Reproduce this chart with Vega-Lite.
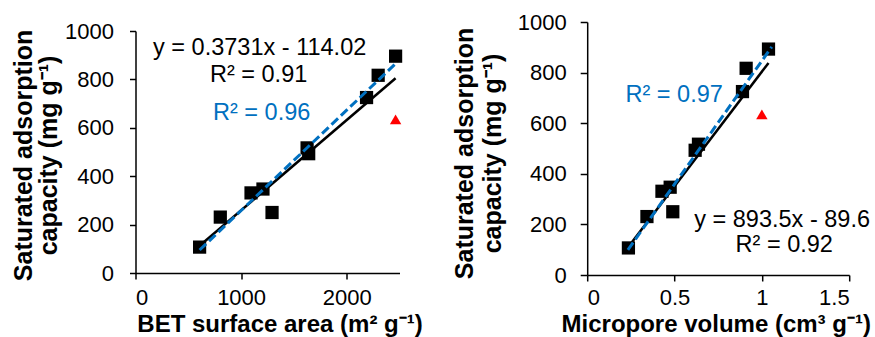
{
  "$schema": "https://vega.github.io/schema/vega-lite/v6.json",
  "padding": {"left": 11.5, "top": 11, "right": 0, "bottom": 0},
  "background": "white",
  "spacing": 28.7,
  "config": {
    "view": {"stroke": null},
    "font": "Liberation Sans",
    "axis": {
      "grid": false,
      "domainColor": "black",
      "domainWidth": 1.5,
      "tickColor": "black",
      "tickWidth": 1.5,
      "tickSize": 6,
      "labelFont": "Liberation Sans",
      "labelFontSize": 22,
      "labelColor": "black",
      "titleFont": "Liberation Sans",
      "titleFontWeight": "bold",
      "titleColor": "black"
    }
  },
  "datasets": {
    "spacer": [],
    "bet_points": [
      {"x": 607, "y": 107, "kind": "square"},
      {"x": 803, "y": 231, "kind": "square"},
      {"x": 1094, "y": 331, "kind": "square"},
      {"x": 1207, "y": 347, "kind": "square"},
      {"x": 1293, "y": 250, "kind": "square"},
      {"x": 1625, "y": 517, "kind": "square"},
      {"x": 1640, "y": 493, "kind": "square"},
      {"x": 2188, "y": 725, "kind": "square"},
      {"x": 2298, "y": 817, "kind": "square"},
      {"x": 2463, "y": 896, "kind": "square"},
      {"x": 2463, "y": 635, "kind": "triangle"}
    ],
    "bet_lines": [
      {"series": "all", "x": 607, "y": 112.5},
      {"series": "all", "x": 2463, "y": 805},
      {"series": "sub", "x": 607, "y": 95},
      {"series": "sub", "x": 2475, "y": 870}
    ],
    "bet_labels": [
      {"group": "all", "x": 1176, "y": 929, "label": "y = 0.3731x - 114.02"},
      {"group": "all", "x": 1166, "y": 818, "label": "R² = 0.91"},
      {"group": "sub", "x": 1195, "y": 660, "label": "R² = 0.96"}
    ],
    "mp_points": [
      {"x": 0.236, "y": 107, "kind": "square"},
      {"x": 0.342, "y": 231, "kind": "square"},
      {"x": 0.428, "y": 331, "kind": "square"},
      {"x": 0.475, "y": 347, "kind": "square"},
      {"x": 0.49, "y": 250, "kind": "square"},
      {"x": 0.637, "y": 517, "kind": "square"},
      {"x": 0.618, "y": 493, "kind": "square"},
      {"x": 0.889, "y": 725, "kind": "square"},
      {"x": 0.91, "y": 817, "kind": "square"},
      {"x": 1.038, "y": 893, "kind": "square"},
      {"x": 1.0, "y": 635, "kind": "triangle"}
    ],
    "mp_lines": [
      {"series": "all", "x": 0.236, "y": 112},
      {"series": "all", "x": 1.038, "y": 838},
      {"series": "sub", "x": 0.233, "y": 99},
      {"series": "sub", "x": 1.057, "y": 902}
    ],
    "mp_labels": [
      {"group": "sub", "x": 0.498, "y": 711, "label": "R² = 0.97"},
      {"group": "all", "x": 1.116, "y": 219, "label": "y = 893.5x - 89.6"},
      {"group": "all", "x": 1.128, "y": 119, "label": "R² = 0.92"}
    ]
  },
  "hconcat": [
    {
      "spacing": 0,
      "bounds": "flush",
      "vconcat": [
        {
          "width": 264,
          "height": 9,
          "data": {"name": "spacer"},
          "mark": {"type": "point", "opacity": 0},
          "encoding": {}
        },
        {
          "width": 264,
          "height": 242,
          "encoding": {
            "x": {
              "field": "x", "type": "quantitative",
              "scale": {"domain": [0, 2500], "nice": false},
              "axis": {
                "title": "BET surface area (m² g⁻¹)",
                "titleFontSize": 24,
                "values": [0, 1000, 2000],
                "format": "d",
                "labelPadding": 8.5,
                "titleX": 144, "titleY": 58.5, "titleBaseline": "alphabetic"
              }
            },
            "y": {
              "field": "y", "type": "quantitative",
              "scale": {"domain": [0, 1000], "nice": false},
              "axis": {
                "title": ["Saturated adsorption", "capacity (mg g⁻¹)"],
                "titleFontSize": 25,
                "titleLineHeight": 25,
                "values": [0, 200, 400, 600, 800, 1000],
                "format": "d",
                "labelPadding": 16,
                "titleX": -112, "titleY": 124, "titleBaseline": "middle", "titleAlign": "center", "titleAngle": 270
              }
            }
          },
          "layer": [
            {
              "data": {"name": "bet_lines"},
              "transform": [{"filter": "datum.series === 'all'"}],
              "mark": {"type": "line", "color": "black", "strokeWidth": 2.5}
            },
            {
              "data": {"name": "bet_points"},
              "transform": [{"filter": "datum.kind === 'square'"}],
              "mark": {"type": "point", "shape": "square", "filled": true, "color": "black", "size": 175, "opacity": 1}
            },
            {
              "data": {"name": "bet_points"},
              "transform": [{"filter": "datum.kind === 'triangle'"}],
              "mark": {"type": "point", "shape": "triangle-up", "filled": true, "color": "#FF0000", "size": 130, "opacity": 1}
            },
            {
              "data": {"name": "bet_lines"},
              "transform": [{"filter": "datum.series === 'sub'"}],
              "mark": {"type": "line", "color": "#0070C0", "strokeWidth": 3, "strokeDash": [9, 4]}
            },
            {
              "data": {"name": "bet_labels"},
              "mark": {"type": "text", "fontSize": 23.5, "font": "Liberation Sans", "align": "center", "baseline": "middle"},
              "encoding": {
                "text": {"field": "label"},
                "color": {"field": "group", "type": "nominal", "scale": {"domain": ["all", "sub"], "range": ["black", "#0070C0"]}, "legend": null}
              }
            }
          ]
        }
      ]
    },
    {
      "width": 262,
      "height": 253,
      "encoding": {
        "x": {
          "field": "x", "type": "quantitative",
          "scale": {"domain": [0, 1.5], "nice": false},
          "axis": {
            "title": "Micropore volume (cm³ g⁻¹)",
            "titleFontSize": 24,
            "values": [0, 0.5, 1, 1.5],
            "format": "~g",
            "labelPadding": 6.5,
            "titleX": 128.5, "titleY": 56.5, "titleBaseline": "alphabetic"
          }
        },
        "y": {
          "field": "y", "type": "quantitative",
          "scale": {"domain": [0, 1000], "nice": false},
          "axis": {
            "title": ["Saturated adsorption", "capacity (mg g⁻¹)"],
            "titleFontSize": 25,
            "titleLineHeight": 28,
            "values": [0, 200, 400, 600, 800, 1000],
            "format": "d",
            "tickSize": 7,
            "labelPadding": 14,
            "titleX": -123, "titleY": 131, "titleBaseline": "middle", "titleAlign": "center", "titleAngle": 270
          }
        }
      },
      "layer": [
        {
          "data": {"name": "mp_lines"},
          "transform": [{"filter": "datum.series === 'all'"}],
          "mark": {"type": "line", "color": "black", "strokeWidth": 2.5}
        },
        {
          "data": {"name": "mp_points"},
          "transform": [{"filter": "datum.kind === 'square'"}],
          "mark": {"type": "point", "shape": "square", "filled": true, "color": "black", "size": 175, "opacity": 1}
        },
        {
          "data": {"name": "mp_points"},
          "transform": [{"filter": "datum.kind === 'triangle'"}],
          "mark": {"type": "point", "shape": "triangle-up", "filled": true, "color": "#FF0000", "size": 130, "opacity": 1}
        },
        {
          "data": {"name": "mp_lines"},
          "transform": [{"filter": "datum.series === 'sub'"}],
          "mark": {"type": "line", "color": "#0070C0", "strokeWidth": 3, "strokeDash": [9, 4]}
        },
        {
          "data": {"name": "mp_labels"},
          "mark": {"type": "text", "fontSize": 23.5, "font": "Liberation Sans", "align": "center", "baseline": "middle"},
          "encoding": {
            "text": {"field": "label"},
            "color": {"field": "group", "type": "nominal", "scale": {"domain": ["all", "sub"], "range": ["black", "#0070C0"]}, "legend": null}
          }
        }
      ]
    }
  ]
}
